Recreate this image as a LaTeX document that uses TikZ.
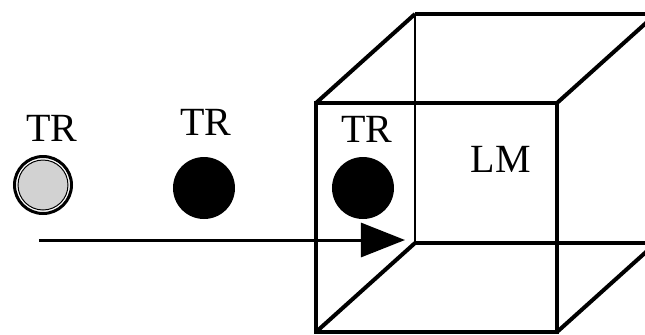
\documentclass[tikz,border=0pt]{standalone}
\usepackage{fontspec}
\setmainfont{Liberation Serif}
\usetikzlibrary{arrows.meta}

\tikzset{
  edge/.style={line width=2pt, line join=miter},
  thinedge/.style={line width=1.2pt},
  tag/.style={inner sep=0pt, font=\fontsize{20}{24}\selectfont},
  blackball/.style={circle, fill=black, inner sep=0pt, minimum size=31pt},
  grayball/.style={circle, draw, fill=gray!35, line width=0.5pt, inner sep=0pt, minimum size=25pt}
}

\begin{document}
\begin{tikzpicture}[x=0.5pt, y=-0.5pt]
\useasboundingbox (0,0) rectangle (645,334);
\clip (0,0) rectangle (645,334);

% --- CUBE ---
\coordinate (f1) at (316,103);
\coordinate (f2) at (557,103);
\coordinate (f3) at (557,332);
\coordinate (f4) at (316,332);
\coordinate (k1) at (415,14);
\coordinate (k2) at (656,14);
\coordinate (k3) at (656,243);
\coordinate (k4) at (415,243);

\draw[edge] (f1) -- (f2) -- (f3) -- (f4) -- cycle;
\draw[edge] (k1) -- (k2) -- (k3);
\draw[edge] (k3) -- (k4);
\draw[thinedge] (k1) -- (k4);
\foreach \i in {1,...,4}
  \draw[edge] (f\i) -- (k\i);

\node[tag] (lm) at (501,159) {LM};

% --- TRACERS ---
\node[grayball] (ball1) at (43,185) {};
\draw[line width=1.5pt] (ball1.center) circle[radius=28.5];
\node[blackball] (ball2) at (204,188) {};
\node[blackball] (ball3) at (363,188) {};

\node[tag] (tr1) at (52,128) {TR};
\node[tag] (tr2) at (206,122) {TR};
\node[tag] (tr3) at (367,129) {TR};

% --- PATH ---
\coordinate (start) at (39,240);
\coordinate (stop) at (405,240);
\draw[line width=1.5pt, -{Triangle[length=22pt,width=17pt]}] (start) -- (stop);

\end{tikzpicture}
\end{document}
